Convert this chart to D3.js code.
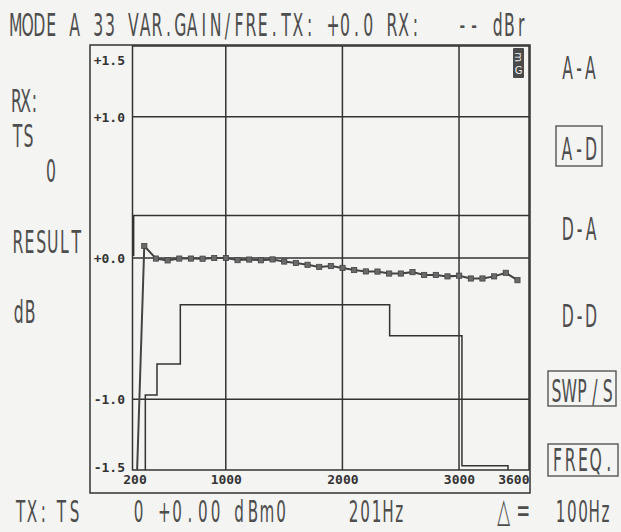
<!DOCTYPE html>
<html>
<head>
<meta charset="utf-8">
<script src="https://cdn.jsdelivr.net/npm/d3@7"></script>
<style>
  html, body { margin: 0; padding: 0; background: #f4f4f2; }
  svg { display: block; }
  .lbl { font-family: "DejaVu Sans", sans-serif; fill: #4e4e4e; }
  .tick text { font-family: "DejaVu Sans Mono", monospace; font-weight: bold; fill: #333; }
</style>
</head>
<body>
<svg id="chart"></svg>
<script>
// gain vs frequency sweep, A-D path
const freqs = [201, 301, 401, 501, 601, 701, 801, 901, 1001, 1101, 1201, 1301, 1401, 1501, 1601, 1701, 1801,
    1901, 2001, 2101, 2201, 2301, 2401, 2501, 2601, 2701, 2801, 2901, 3001, 3101, 3201, 3301, 3401, 3501];
const gainDb = [-2.5, 0.085, -0.004, -0.017, -0.004, -0.004, -0.005, 0.0, 0.0, -0.015, -0.011, -0.016, -0.01,
    -0.025, -0.035, -0.048, -0.063, -0.057, -0.07, -0.085, -0.095, -0.096, -0.11, -0.11, -0.10, -0.12, -0.12,
    -0.13, -0.125, -0.145, -0.145, -0.13, -0.105, -0.157];

// tolerance mask
const upperMaskF = [200, 210, 210, 3600];
const upperMaskDb = [0.02, 0.02, 0.3, 0.3];
const lowerMaskF = [310, 310, 410, 410, 610, 610, 2405, 2405, 3025, 3025, 3420, 3420];
const lowerMaskDb = [-1.5, -0.97, -0.97, -0.75, -0.75, -0.33, -0.33, -0.55, -0.55, -1.47, -1.47, -1.5];

const xTicks = [200, 1000, 2000, 3000, 3600];
const yTicks = [1.5, 1.0, 0.0, -1.0, -1.5];
const yTickLabels = ["+1.5", "+1.0", "+0.0", "-1.0", "-1.5"];
const xGrid = [1000, 2000, 3000];
const yGrid = [1.0, 0.0, -1.0];

const title = "MODE A 33 VAR.GAIN/FRE.TX: +0.0 RX:   -- dBr";
const sideLabels = ["RX:", "TS", "0", "RESULT", "dB"];
const modeLabels = ["A-A", "A-D", "D-A", "D-D", "SWP/S", "FREQ."];
const boxedModes = ["A-D", "SWP/S", "FREQ."];
const footer = ["TX:", "TS", "0", "+0.00", "dBm0", "201Hz", "△=", "100Hz"];

const W = 621, H = 532;
const plot = { left: 132.5, right: 529, top: 46, bottom: 470 };
const frame = { left: 90, right: 530, top: 45, bottom: 493 };
const ink = "#333";

const svg = d3.select("#chart").attr("width", W).attr("height", H);
svg.append("rect").attr("width", W).attr("height", H).attr("fill", "#f4f4f2");

const x = d3.scaleLinear().domain([200, 3600]).range([plot.left, plot.right]);
const y = d3.scaleLinear().domain([-1.5, 1.5]).range([plot.bottom, plot.top]);

// plotter style lettering: fixed cells, glyphs squeezed horizontally
function label(str, x0, base, width, size = 32, sx = 0.49) {
    const chars = Array.from(str);
    const adv = width / chars.length;
    const g = svg.append("g").attr("transform", `translate(${x0},${base}) scale(${sx},1)`);
    return g.append("text")
        .attr("class", "lbl")
        .attr("x", chars.map((c, i) => ((i + 0.5) * adv / sx).toFixed(1)).join(" "))
        .attr("y", 0)
        .attr("text-anchor", "middle")
        .attr("font-size", size)
        .text(str);
}

// title on a fixed character grid
const titleAdv = 11.75;
for (const m of title.matchAll(/\S+/g)) {
    label(m[0], 10 + m.index * titleAdv, 36, m[0].length * titleAdv);
}

// left side
const sidePos = [[12, 112, 27], [12, 147, 22], [45, 182, 12], [12, 253, 70], [13, 323, 23]];
sideLabels.forEach((t, i) => label(t, ...sidePos[i]));

// right side mode menu
const modePos = [[562, 79, 34], [561, 160, 36], [562, 240, 35], [562, 327, 35], [550, 402, 64], [551, 471, 64]];
const modeBox = { "A-D": [556, 126, 46, 40], "SWP/S": [548, 371, 68, 35], "FREQ.": [548, 444, 70, 32] };
modeLabels.forEach((t, i) => {
    label(t, ...modePos[i]);
    if (boxedModes.includes(t)) {
        const b = modeBox[t];
        svg.append("rect")
            .attr("x", b[0]).attr("y", b[1]).attr("width", b[2]).attr("height", b[3])
            .attr("fill", "none").attr("stroke", "#555").attr("stroke-width", 1.4);
    }
});

// footer
const footPos = [[15, 34], [55, 26], [133, 11], [158, 64], [232, 56], [348, 57], [494, 39], [555, 56]];
footer.forEach((t, i) => {
    const el = label(t, footPos[i][0], 522, footPos[i][1], 31);
    if (t.startsWith("△")) el.attr("font-size", 34);
});

// frames
svg.append("rect")
    .attr("x", frame.left).attr("y", frame.top)
    .attr("width", frame.right - frame.left).attr("height", frame.bottom - frame.top)
    .attr("fill", "none").attr("stroke", ink).attr("stroke-width", 1.5);
svg.append("rect")
    .attr("x", plot.left).attr("y", plot.top)
    .attr("width", plot.right - plot.left).attr("height", plot.bottom - plot.top)
    .attr("fill", "none").attr("stroke", ink).attr("stroke-width", 1.5);

// grid
svg.append("g").selectAll("line").data(xGrid).join("line")
    .attr("x1", d => x(d)).attr("x2", d => x(d))
    .attr("y1", plot.top).attr("y2", plot.bottom)
    .attr("stroke", ink).attr("stroke-width", 1.5);
svg.append("g").selectAll("line").data(yGrid).join("line")
    .attr("x1", plot.left).attr("x2", plot.right)
    .attr("y1", d => y(d)).attr("y2", d => y(d))
    .attr("stroke", ink).attr("stroke-width", 1.5);

// axes (labels only)
const yAxis = svg.append("g")
    .attr("transform", "translate(125,0)")
    .call(d3.axisLeft(y).tickValues(yTicks).tickFormat((d, i) => yTickLabels[i]).tickSize(0).tickPadding(0));
yAxis.select(".domain").remove();
yAxis.selectAll("text")
    .attr("font-size", 13)
    .attr("dy", d => d === 1.5 ? "1.4em" : d === -1.5 ? "0.15em" : "0.35em");

const xAxis = svg.append("g")
    .attr("transform", `translate(0,${plot.bottom})`)
    .call(d3.axisBottom(x).tickValues(xTicks).tickFormat(d3.format("d")).tickSize(0).tickPadding(5));
xAxis.select(".domain").remove();
xAxis.selectAll("text")
    .attr("font-size", 13)
    .attr("text-anchor", d => d === 3600 ? "end" : "middle")
    .attr("dx", d => d === 200 ? 2 : 0);

// clip for data and mask
svg.append("clipPath").attr("id", "plot-clip")
    .append("rect")
    .attr("x", plot.left).attr("y", plot.top)
    .attr("width", plot.right - plot.left).attr("height", plot.bottom - plot.top);

const maskLine = d3.line().x(d => x(d[0])).y(d => y(d[1]));
svg.append("path")
    .datum(d3.zip(upperMaskF, upperMaskDb))
    .attr("d", maskLine)
    .attr("fill", "none").attr("stroke", ink).attr("stroke-width", 1.5);
svg.append("path")
    .datum(d3.zip(lowerMaskF, lowerMaskDb))
    .attr("d", maskLine)
    .attr("fill", "none").attr("stroke", ink).attr("stroke-width", 1.5);

// measured curve
const series = d3.zip(freqs, gainDb);
const dataG = svg.append("g").attr("clip-path", "url(#plot-clip)");
dataG.append("path")
    .datum(series)
    .attr("d", d3.line().x(d => x(d[0])).y(d => y(d[1])))
    .attr("fill", "none").attr("stroke", "#444").attr("stroke-width", 2);
dataG.selectAll(".mk").data(series).join("rect")
    .attr("class", "mk")
    .attr("x", d => x(d[0]) - 2.6).attr("y", d => y(d[1]) - 2.6)
    .attr("width", 5.2).attr("height", 5.2)
    .attr("fill", "#6a6a6a").attr("stroke", "#444").attr("stroke-width", 0.8);

// small badge in the top right corner
const badge = svg.append("g").attr("transform", "translate(513,48)");
badge.append("rect").attr("width", 11).attr("height", 30).attr("rx", 1).attr("fill", "#4a4a4a");
badge.append("text")
    .attr("transform", "translate(5.5,9) rotate(90)")
    .attr("text-anchor", "middle").attr("dy", "0.35em")
    .attr("font-family", "DejaVu Sans, sans-serif").attr("font-size", 10).attr("fill", "#eee")
    .text("m");
badge.append("text")
    .attr("x", 5.5).attr("y", 26)
    .attr("text-anchor", "middle")
    .attr("font-family", "DejaVu Sans, sans-serif").attr("font-size", 10).attr("fill", "#eee")
    .text("G");
</script>
</body>
</html>
